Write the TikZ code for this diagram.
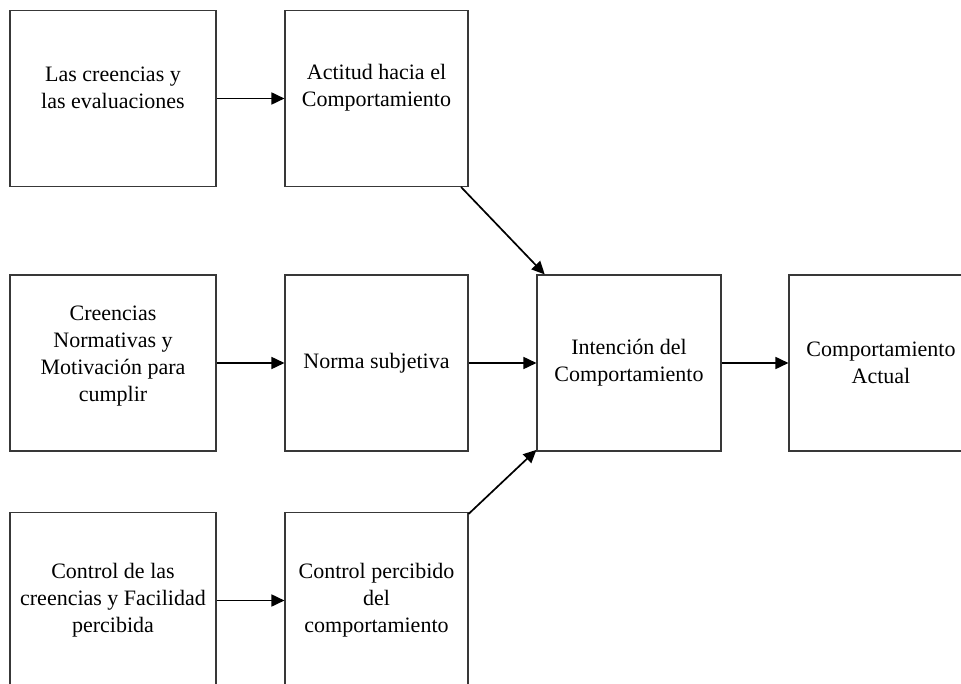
\documentclass[tikz,border=0pt]{standalone}
\usepackage{fontspec}
\setmainfont{Liberation Serif}
\usetikzlibrary{arrows.meta}
\begin{document}
\begin{tikzpicture}[x=1pt,y=-1pt,
  box/.style={draw=black!78, line width=1.1pt, rectangle, inner sep=0pt,
    minimum height=176pt},
  wide/.style={box, minimum width=206pt},
  narrow/.style={box, minimum width=183pt},
  txt/.style={align=center, inner sep=0pt, font=\fontsize{22}{27}\selectfont},
  caption/.style 2 args={label={[txt, yshift=#1]center:{#2}}},
  link/.style={line width=1.7pt, -{Triangle[length=13pt,width=12pt]}}]
\useasboundingbox (0,0) rectangle (961,684);
\clip (0,0) rectangle (961,684);
% left column: beliefs
\node[wide, caption={11pt}{Las creencias y\\las evaluaciones}] (b1) at (113,98.5) {};
\node[wide, caption={7pt}{Creencias\\Normativas y\\Motivación para\\cumplir}] (b3) at (113,363) {};
\node[wide, caption={0pt}{Control de las\\creencias y Facilidad\\percibida}] (b7) at (113,600.5) {};
% middle column: determinants
\node[narrow, caption={11pt}{Actitud hacia el\\Comportamiento}] (b2) at (376.5,98.5) {};
\node[narrow, caption={0pt}{Norma subjetiva}] (b4) at (376.5,363) {};
\node[narrow, caption={0pt}{Control percibido\\del\\comportamiento}] (b8) at (376.5,600.5) {};
% intention and behaviour
\node[narrow, minimum width=184pt, caption={0pt}{Intención del\\Comportamiento}] (b5) at (629,363) {};
\node[narrow, minimum width=184pt, caption={0pt}{Comportamiento\\Actual}] (b6) at (881,363) {};
% connectors
\draw[link] (b1) -- (b2);
\draw[link] (b3) -- (b4);
\draw[link] (b7) -- (b8);
\draw[link] (b4) -- (b5);
\draw[link] (b2) -- (b5);
\draw[link] (b8) -- (b5);
\draw[link] (b5) -- (b6);
\end{tikzpicture}
\end{document}
